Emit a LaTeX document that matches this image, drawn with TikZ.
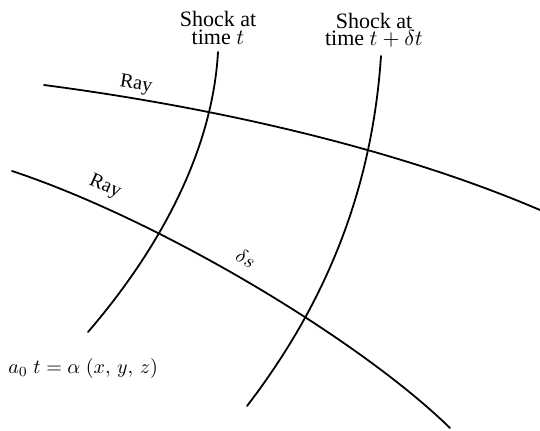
\documentclass[tikz,border=0pt]{standalone}
\usepackage{fontspec}
\setmainfont{Liberation Serif}
\begin{document}
\begin{tikzpicture}[x=0.5pt,y=-0.5pt,
  curve/.style={line width=0.9pt, line cap=round},
  lbl/.style={inner sep=0pt, font=\fontsize{10}{8.6}\selectfont, align=center},
  head/.style={inner sep=0pt, font=\fontsize{11}{8.6}\selectfont, align=center}]
\useasboundingbox (0,0) rectangle (540,430);
% end points
\coordinate (r1s) at (44,85);
\coordinate (r1e) at (540,210);
\coordinate (r2s) at (12,171);
\coordinate (r2e) at (450,428);
\coordinate (s1s) at (218,52);
\coordinate (s1e) at (88,332);
\coordinate (s2s) at (381,56);
\coordinate (s2e) at (247,406);
% rays
\draw[curve] (r1s) .. controls (220,108) and (400,150) .. (r1e);
\draw[curve] (r2s) .. controls (160,220) and (360,340) .. (r2e);
% shocks
\draw[curve] (s1s) .. controls (212,160) and (150,260) .. (s1e);
\draw[curve] (s2s) .. controls (372,190) and (326,303) .. (s2e);
% labels
\node[head] (s1) at (218,28) {Shock at\\time $t$};
\node[head] (s2) at (374,30) {Shock at\\time $t+\delta t$};
\node[lbl, rotate=-9] (ra) at (136,85) {Ray};
\node[lbl, rotate=-24] (rb) at (105,187) {Ray};
\node[lbl, rotate=-30] (ds) at (246,258) {$\delta s$};
\node[lbl, anchor=west] (eq) at (8,368) {$a_0\;t=\alpha\;(x,\,y,\,z)$};
\end{tikzpicture}
\end{document}
